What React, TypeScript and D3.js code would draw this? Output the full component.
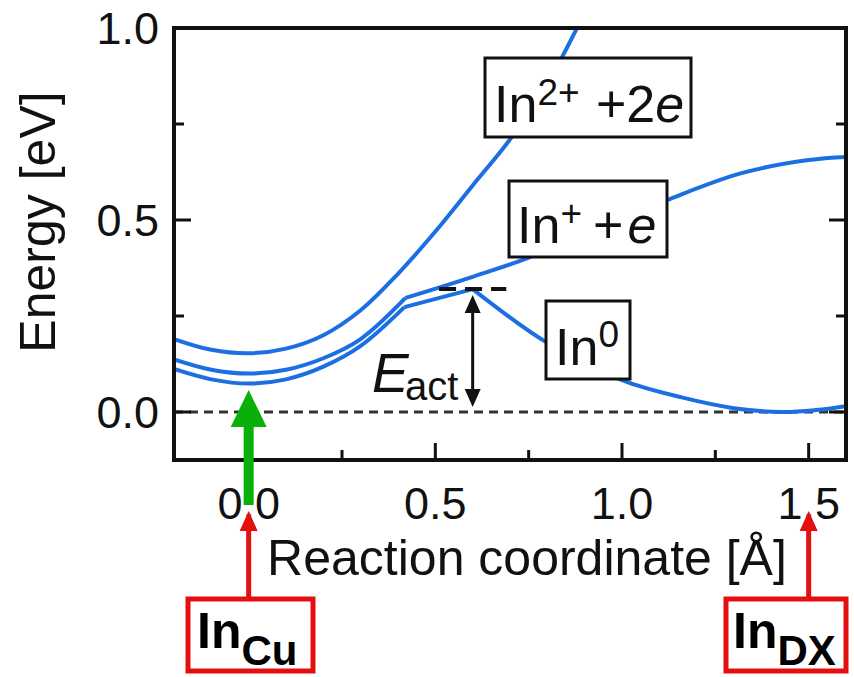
import * as d3 from 'd3';

// reaction coordinate [Å] vs energy [eV]
const in2Curve: [number, number][] = [
  [-0.2, 0.19], [-0.1, 0.162], [0, 0.153], [0.1, 0.165], [0.2, 0.2], [0.3, 0.265],
  [0.4, 0.36], [0.5, 0.47], [0.6, 0.59], [0.7, 0.71], [0.8, 0.855], [0.9, 1.04],
];
const in1Left: [number, number][] = [
  [-0.2, 0.137], [-0.1, 0.11], [0, 0.1], [0.1, 0.11], [0.2, 0.14], [0.3, 0.19], [0.42, 0.297],
];
const in1Right: [number, number][] = [
  [0.42, 0.297], [0.6, 0.352], [0.745, 0.4], [0.9, 0.465], [1.12, 0.552], [1.32, 0.622],
  [1.5, 0.656], [1.6, 0.664],
];
const in0Left: [number, number][] = [
  [-0.2, 0.112], [-0.1, 0.085], [0, 0.074], [0.1, 0.085], [0.2, 0.118], [0.3, 0.172], [0.417, 0.273],
];
const in0Rise: [number, number][] = [[0.417, 0.273], [0.6, 0.32]];
const in0Right: [number, number][] = [
  [0.6, 0.32], [0.8, 0.18], [1.0, 0.083], [1.16, 0.038], [1.3, 0.01], [1.43, 0.0], [1.52, 0.005], [1.6, 0.015],
];

const xMajor = [0, 0.5, 1.0, 1.5];
const xMinor = [0.25, 0.75, 1.25];
const yMajor = [0, 0.5, 1.0];
const yMinor = [0.25, 0.75];
const xTickLabels = ['0.0', '0.5', '1.0', '1.5'];
const yTickLabels = ['0.0', '0.5', '1.0'];

const barrierX = 0.6;
const barrierE = 0.32;

const W = 854;
const H = 677;
const left = 174;
const right = 846;
const top = 28;
const bottom = 460;

const BLUE = '#1c6fe2';
const RED = '#e41010';
const GREEN = '#08b008';
const FONT = "'Liberation Sans', Arial, Helvetica, sans-serif";

export default function App() {
  const x = d3.scaleLinear().domain([-0.2, 1.6]).range([left, right]);
  const y = d3.scaleLinear().domain([-0.125, 1.0]).range([bottom, top]);

  const smooth = d3
    .line<[number, number]>()
    .x((d) => x(d[0]))
    .y((d) => y(d[1]))
    .curve(d3.curveCatmullRom.alpha(0.5));
  const straight = d3
    .line<[number, number]>()
    .x((d) => x(d[0]))
    .y((d) => y(d[1]));

  const curves = [
    smooth(in2Curve),
    smooth(in1Left),
    smooth(in1Right),
    smooth(in0Left),
    straight(in0Rise),
    smooth(in0Right),
  ];

  const bx = x(barrierX);
  const arrTop = y(barrierE) + 6;
  const arrBot = y(0) - 5;

  const gx = x(0);
  const gTip = y(0.057);

  const redArrow = (cx: number) => (
    <g>
      <line x1={cx} x2={cx} y1={598} y2={528} stroke={RED} strokeWidth={5} />
      <path d={`M${cx - 9},${531} L${cx + 9},${531} L${cx},${511} Z`} fill={RED} />
    </g>
  );

  return (
    <svg
      width={W}
      height={H}
      style={{ position: 'absolute', left: 0, top: 0, background: '#fff' }}
      fontFamily={FONT}
    >
      <defs>
        <clipPath id="plot">
          <rect x={left} y={top} width={right - left} height={bottom - top} />
        </clipPath>
      </defs>

      {/* zero line */}
      <line
        x1={left}
        x2={right}
        y1={y(0)}
        y2={y(0)}
        stroke="#333"
        strokeWidth={3}
        strokeDasharray="9 6"
      />

      <g clipPath="url(#plot)">
        {curves.map((d, i) => (
          <path key={i} d={d || ''} fill="none" stroke={BLUE} strokeWidth={4} strokeLinejoin="round" />
        ))}
      </g>

      {/* barrier level */}
      <line
        x1={x(0.51)}
        x2={x(0.69)}
        y1={y(barrierE)}
        y2={y(barrierE)}
        stroke="#111"
        strokeWidth={4}
        strokeDasharray="17 9"
      />

      {/* E_act double arrow */}
      <line x1={bx} x2={bx} y1={arrTop + 14} y2={arrBot - 14} stroke="#111" strokeWidth={3} />
      <path d={`M${bx - 8},${arrTop + 18} L${bx + 8},${arrTop + 18} L${bx},${arrTop} Z`} fill="#111" />
      <path d={`M${bx - 8},${arrBot - 18} L${bx + 8},${arrBot - 18} L${bx},${arrBot} Z`} fill="#111" />
      <text x={372} y={392} fontSize={55} fontStyle="italic" fill="#111">E</text>
      <text x={405} y={400} fontSize={40} fill="#111">act</text>

      {/* labels */}
      <rect x={485} y={58} width={206} height={79} fill="#fff" stroke="#111" strokeWidth={3} />
      <text x={494} y={122} fontSize={52} fill="#111">
        In<tspan fontSize={37} dy={-17}>2+</tspan>
      </text>
      <text x={596} y={122} fontSize={52} fill="#111">
        +2<tspan fontStyle="italic">e</tspan>
      </text>

      <rect x={509} y={181} width={158} height={76} fill="#fff" stroke="#111" strokeWidth={3} />
      <text x={517} y={243} fontSize={52} fill="#111">
        In<tspan fontSize={37} dy={-17}>+</tspan>
      </text>
      <text x={593} y={243} fontSize={52} fill="#111">
        +<tspan dx={4} fontStyle="italic">e</tspan>
      </text>

      <rect x={546} y={301} width={84} height={78} fill="#fff" stroke="#111" strokeWidth={3} />
      <text x={555} y={365} fontSize={52} fill="#111">
        In<tspan fontSize={37} dy={-18}>0</tspan>
      </text>

      {/* frame */}
      <rect x={left} y={top} width={right - left} height={bottom - top} fill="none" stroke="#111" strokeWidth={4} />

      {/* ticks */}
      {xMajor.map((t) => (
        <line key={'xM' + t} x1={x(t)} x2={x(t)} y1={bottom} y2={bottom - 17} stroke="#111" strokeWidth={3} />
      ))}
      {xMinor.map((t) => (
        <line key={'xm' + t} x1={x(t)} x2={x(t)} y1={bottom} y2={bottom - 10} stroke="#111" strokeWidth={3} />
      ))}
      {yMajor.map((t) => (
        <g key={'yM' + t}>
          <line x1={left} x2={left + 17} y1={y(t)} y2={y(t)} stroke="#111" strokeWidth={3} />
          <line x1={right} x2={right - 17} y1={y(t)} y2={y(t)} stroke="#111" strokeWidth={3} />
        </g>
      ))}
      {yMinor.map((t) => (
        <g key={'ym' + t}>
          <line x1={left} x2={left + 10} y1={y(t)} y2={y(t)} stroke="#111" strokeWidth={3} />
          <line x1={right} x2={right - 10} y1={y(t)} y2={y(t)} stroke="#111" strokeWidth={3} />
        </g>
      ))}

      {/* tick labels */}
      {xMajor.map((t, i) => (
        <text key={'xl' + t} x={x(t)} y={519} fontSize={45} textAnchor="middle" fill="#111">
          {xTickLabels[i]}
        </text>
      ))}
      {yMajor.map((t, i) => (
        <text key={'yl' + t} x={159} y={y(t) + 16} fontSize={45} textAnchor="end" fill="#111">
          {yTickLabels[i]}
        </text>
      ))}

      {/* axis titles */}
      <text x={527} y={575} fontSize={50} textAnchor="middle" fill="#111">
        Reaction coordinate [Å]
      </text>
      <text transform={`translate(55,222) rotate(-90)`} fontSize={50} textAnchor="middle" fill="#111">
        Energy [eV]
      </text>

      {/* green arrow at In_Cu minimum */}
      <path
        d={`M${gx - 5},505 L${gx - 5},${gTip + 37} L${gx - 18},${gTip + 37} L${gx},${gTip} L${gx + 18},${gTip + 37} L${gx + 5},${gTip + 37} L${gx + 5},505 Z`}
        fill={GREEN}
      />

      {/* site markers */}
      {redArrow(x(0))}
      {redArrow(x(1.5))}
      <rect x={188} y={599} width={125} height={72} fill="#fff" stroke={RED} strokeWidth={5} />
      <text x={197} y={648} fontSize={50} fontWeight="bold" fill="#000">
        In<tspan fontSize={42} dy={17}>Cu</tspan>
      </text>
      <rect x={726} y={599} width={120} height={72} fill="#fff" stroke={RED} strokeWidth={5} />
      <text x={733} y={648} fontSize={50} fontWeight="bold" fill="#000">
        In<tspan fontSize={42} dy={17}>DX</tspan>
      </text>
    </svg>
  );
}
